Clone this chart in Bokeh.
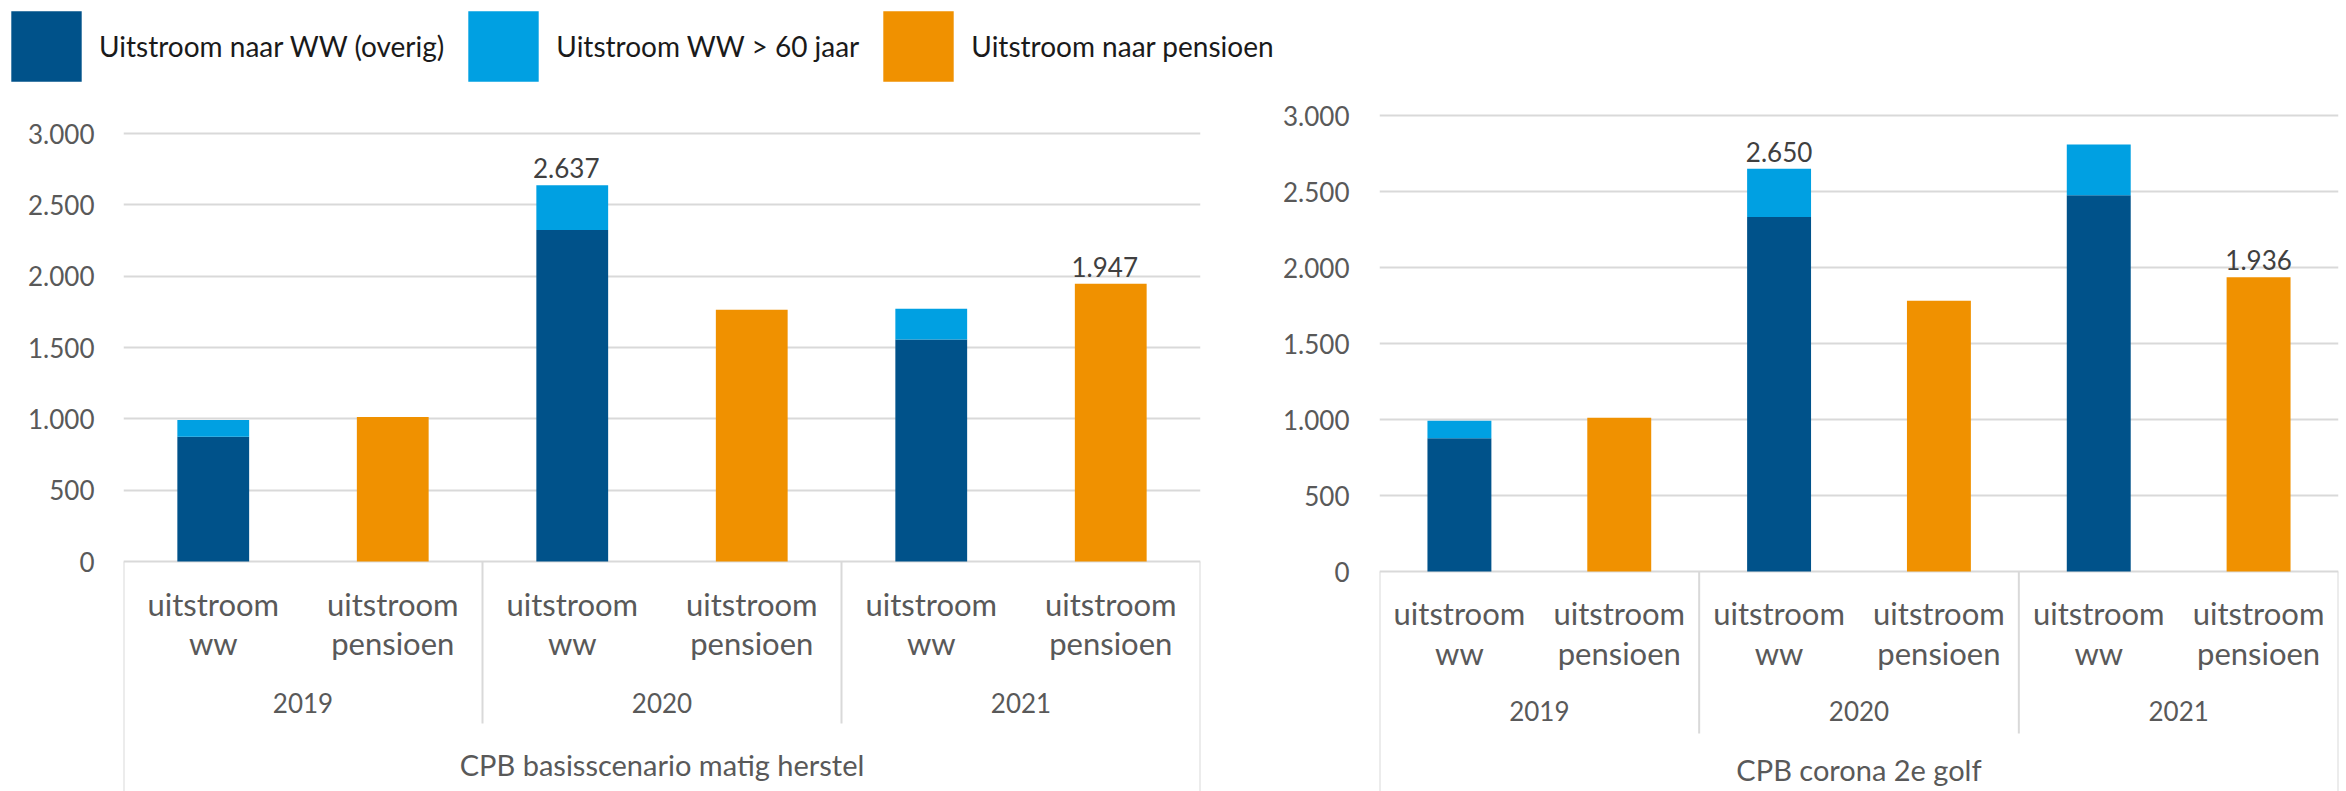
from bokeh.plotting import figure
from bokeh.models import FactorRange, Range1d, FixedTicker, ColumnDataSource, Legend, LegendItem
from bokeh.layouts import column, row
from bokeh.embed import file_html
from bokeh.resources import INLINE
from bokeh.core.properties import value

# ---------------- data ----------------
years = ["2019", "2020", "2021"]
categories = ["uitstroom ww", "uitstroom pensioen"]
category_lines = {"uitstroom ww": ["uitstroom", "ww"],
                  "uitstroom pensioen": ["uitstroom", "pensioen"]}
series_names = ["Uitstroom naar WW (overig)", "Uitstroom WW > 60 jaar", "Uitstroom naar pensioen"]
y_ticks = [0, 500, 1000, 1500, 2000, 2500, 3000]
y_tick_labels = ["0", "500", "1.000", "1.500", "2.000", "2.500", "3.000"]

scen_basis = "CPB basisscenario matig herstel"
basis_ww_overig = [874, 2323, 1556]
basis_ww_60 = [117, 314, 216]
basis_pensioen = [1013, 1765, 1947]
basis_labelled = [("2020", "uitstroom ww"), ("2021", "uitstroom pensioen")]

scen_corona = "CPB corona 2e golf"
corona_ww_overig = [876, 2333, 2476]
corona_ww_60 = [116, 317, 333]
corona_pensioen = [1012, 1782, 1936]
corona_labelled = [("2020", "uitstroom ww"), ("2021", "uitstroom pensioen")]

# ---------------- style ----------------
DARK = "#00528A"
LIGHT = "#00A0E2"
ORANGE = "#F09100"
GRID = "#D9D9D9"
TXT = "#595959"
FONT = "Lato"


def fmt(v):
    return f"{int(round(v)):,}".replace(",", ".")


def build_chart(scen, overig, w60, pens, labelled, lay):
    W, H = lay["width"], lay["height"]
    zero_px, top_px = lay["zero_px"], lay["top_px"]
    upp = y_ticks[-1] / float(zero_px - top_px)

    def ydata(px):
        return (zero_px - px) * upp

    factors = [(scen, yr, c) for yr in years for c in categories]
    x_range = FactorRange(*factors, factor_padding=0, subgroup_padding=0,
                          group_padding=0, range_padding=0)
    y_range = Range1d(ydata(H), ydata(0))
    p = figure(width=W, height=H, x_range=x_range, y_range=y_range,
               x_axis_location=None, toolbar_location=None, output_backend="svg",
               min_border_left=lay["border_left"], min_border_right=lay["border_right"],
               min_border_top=0, min_border_bottom=0, outline_line_color=None)

    ax = p.yaxis[0]
    ax.ticker = FixedTicker(ticks=y_ticks, minor_ticks=[])
    ax.major_label_overrides = {t: l for t, l in zip(y_ticks, y_tick_labels)}
    ax.axis_line_color = None
    ax.major_tick_line_color = None
    ax.minor_tick_line_color = None
    ax.major_tick_out = 0
    ax.major_tick_in = 0
    ax.major_label_standoff = lay["standoff"]
    ax.major_label_text_font = FONT
    ax.major_label_text_font_size = "26px"
    ax.major_label_text_color = TXT
    p.ygrid.ticker = FixedTicker(ticks=y_ticks)
    p.ygrid.grid_line_color = GRID
    p.ygrid.grid_line_width = 2
    p.xgrid.visible = False

    ww_x = [(scen, yr, categories[0]) for yr in years]
    pe_x = [(scen, yr, categories[1]) for yr in years]
    src = ColumnDataSource(dict(x=ww_x, overig=overig, w60=w60))
    p.vbar_stack(["overig", "w60"], x="x", width=0.4, fill_color=[DARK, LIGHT],
                 line_color=None, source=src)
    p.vbar(x=pe_x, top=pens, width=0.4, fill_color=ORANGE, line_color=None)

    # data labels
    lx, ly, lt = [], [], []
    for yr, c in labelled:
        i = years.index(yr)
        v = overig[i] + w60[i] if c == categories[0] else pens[i]
        lx.append((scen, yr, c)); ly.append(v); lt.append(fmt(v))
    p.text(x=lx, y=ly, text=lt, text_align="center", text_baseline="alphabetic",
           text_font=value(FONT), text_font_size="26px", text_color="#404040",
           y_offset=lay["label_dy"], x_offset=lay["label_dx"])

    # axis frame lines
    n = len(factors)
    p.segment(x0=[0, n], y0=[0, 0], x1=[0, n], y1=[ydata(H), ydata(H)],
              line_color=GRID, line_width=2)
    seps = list(range(len(categories), n, len(categories)))
    p.segment(x0=seps, y0=[0] * len(seps), x1=seps, y1=[ydata(lay["sep_bottom"])] * len(seps),
              line_color=GRID, line_width=2)

    # category labels (two lines)
    l1 = [category_lines[f[2]][0] for f in factors]
    l2 = [category_lines[f[2]][1] for f in factors]
    common = dict(text_align="center", text_baseline="alphabetic", text_font=value(FONT),
                  text_color=TXT)
    p.text(x=factors, y=[ydata(lay["cat1"])] * n, text=l1, text_font_size="31px", **common)
    p.text(x=factors, y=[ydata(lay["cat2"])] * n, text=l2, text_font_size="31px", **common)
    p.text(x=[(scen, yr) for yr in years], y=[ydata(lay["year"])] * len(years), text=years,
           text_font_size="26px", **common)
    p.text(x=[scen], y=[ydata(lay["scen"])], text=[scen], text_font_size="29px", **common)
    return p


left_layout = dict(width=1280, height=698, border_left=123, border_right=80,
                   zero_px=468, top_px=40, standoff=29, label_dx=-6, label_dy=-17,
                   cat1=510, cat2=549, year=609, scen=671, sep_bottom=630)
right_layout = dict(width=1066, height=698, border_left=93, border_right=8,
                    zero_px=478, top_px=22, standoff=30, label_dx=0, label_dy=-17,
                    cat1=519, cat2=559, year=617, scen=676, sep_bottom=640)

p1 = build_chart(scen_basis, basis_ww_overig, basis_ww_60, basis_pensioen, basis_labelled, left_layout)
p2 = build_chart(scen_corona, corona_ww_overig, corona_ww_60, corona_pensioen, corona_labelled, right_layout)

# legend figure (zero-height swatches, only used to carry the legend glyph colours)
lp = figure(width=1300, height=93, x_axis_location=None, y_axis_location=None,
            toolbar_location=None, output_backend="svg", min_border=0,
            outline_line_color=None)
lp.grid.visible = False
rends = [lp.vbar(x=[0], top=[0], bottom=[0], width=1, fill_color=c, line_color=None)
         for c in [DARK, LIGHT, ORANGE]]
legend = Legend(items=[LegendItem(label=nm, renderers=[r]) for nm, r in zip(series_names, rends)],
                orientation="horizontal", location="top_left", margin=2, padding=0,
                glyph_width=88, glyph_height=88, label_standoff=9, spacing=15,
                label_text_font=FONT, label_text_font_size="28px", label_text_color="#1A1A1A",
                border_line_color=None, background_fill_alpha=0)
lp.add_layout(legend)

layout = column(lp, row(p1, p2))
open("out.html", "w").write(file_html(layout, INLINE))
